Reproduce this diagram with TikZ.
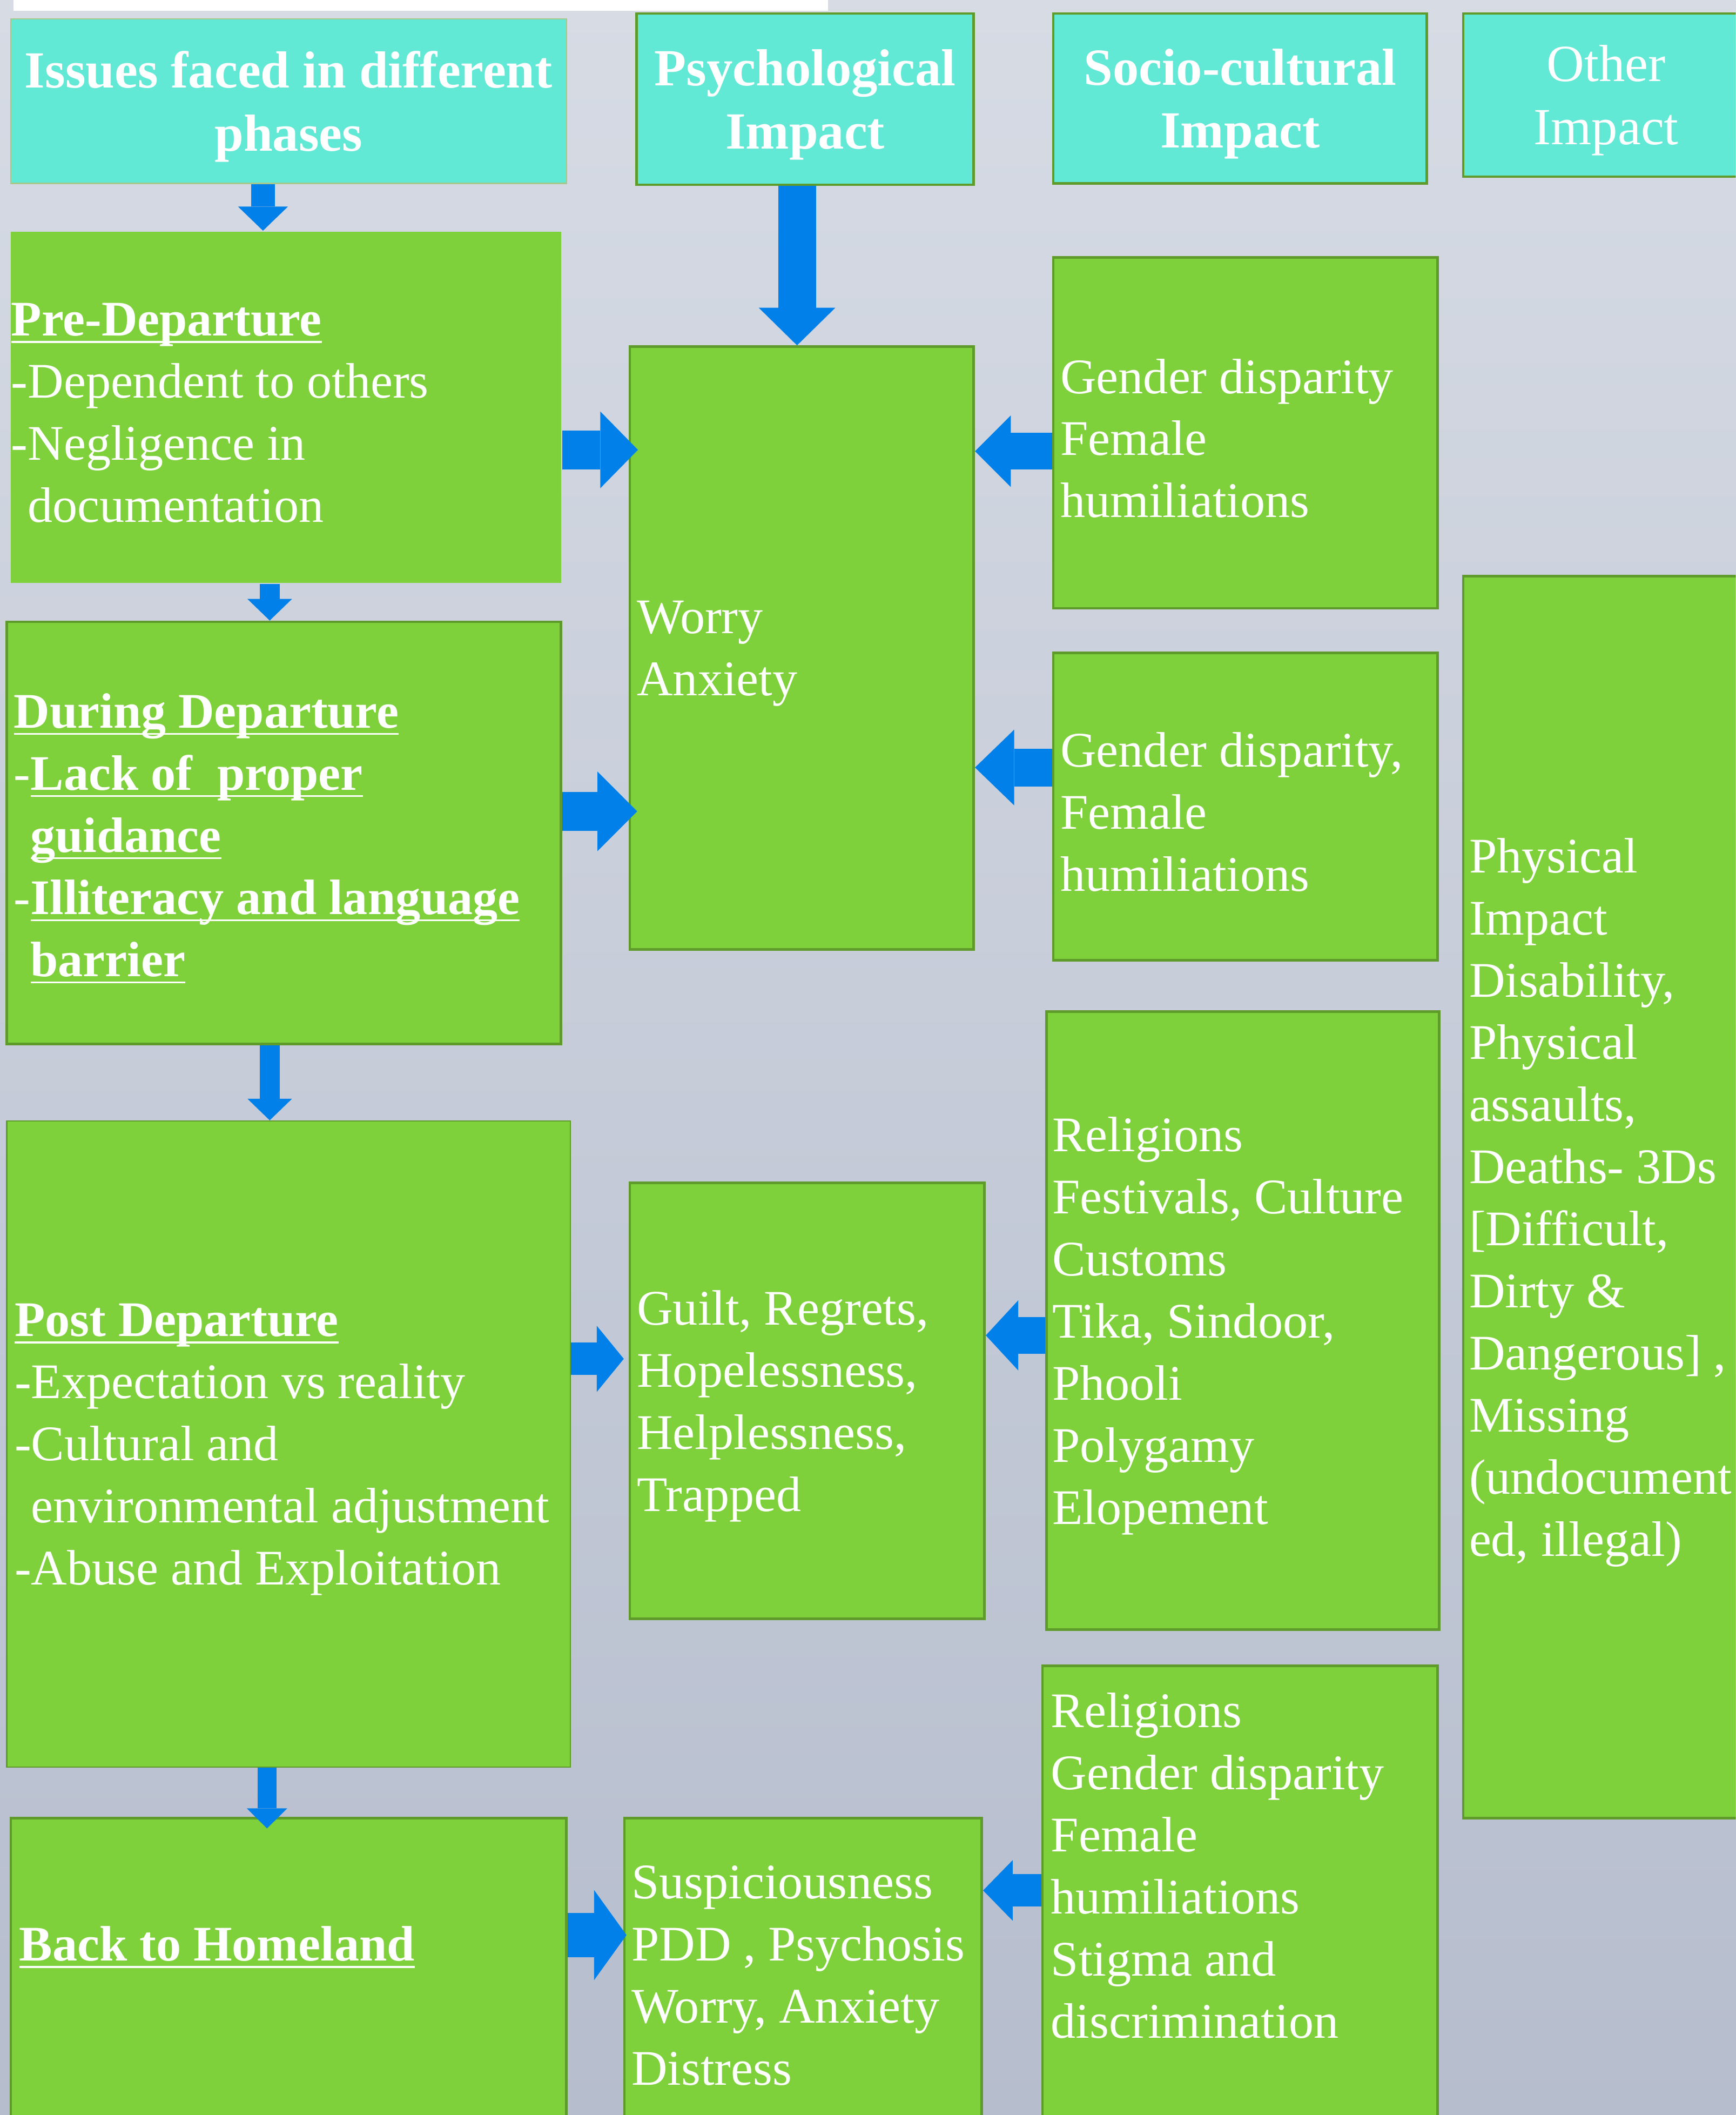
\documentclass[tikz,border=0pt]{standalone}
\usepackage{fontspec}
\setmainfont{Liberation Serif}
\usetikzlibrary{arrows.meta}
\usetikzlibrary{positioning}
\usetikzlibrary{fit}

\definecolor{bgtop}{HTML}{D6DBE4}
\definecolor{bgbot}{HTML}{B6BDCD}
\definecolor{boxgreen}{HTML}{7FD13B}
\definecolor{edgegreen}{HTML}{5F9B2A}
\definecolor{headcyan}{HTML}{62E9D6}
\definecolor{arrowblue}{HTML}{0080E8}

\newcommand{\uln}[1]{\setbox0=\hbox{#1}\rlap{\rule[-3pt]{\wd0}{0.8pt}}\box0}
\newcommand{\ind}{\phantom{-}}

\begin{document}
\begin{tikzpicture}[x=0.02cm, y=-0.02cm,
	head/.style={fill=headcyan, draw=edgegreen, line width=1.1pt, inner sep=0pt},
	htxt/.style={text=white, align=center, inner sep=0pt, yshift=-0.08cm, font=\fontsize{22pt}{26.6pt}\selectfont\bfseries},
	gbox/.style={fill=boxgreen, draw=edgegreen, line width=1.1pt, inner sep=0pt},
	txt/.style={text=white, align=left, inner sep=0pt, font=\fontsize{21pt}{26.2pt}\selectfont},
	ctxt/.style={txt, yshift=-0.08cm},
	flow/.style n args={3}{arrowblue, line width=#1pt, -{Triangle[width=#2pt, length=#3pt, line width=0pt]}}]
			\useasboundingbox (0,0) rectangle (1287,1568);
			\clip (0,0) rectangle (1287,1568);
			\shade[top color=bgtop, bottom color=bgbot] (0,0) rectangle (1287,1568);
			\fill[white] (10,0) rectangle (614,8);
			% column heads
			\node[head, fit={(8,14) (420,136)}, draw=edgegreen!55, line width=0.5pt] (issues) {};
			\node[head, fit={(472,10) (722,137)}] (psych) {};
			\node[head, fit={(781,10) (1058,136)}] (socio) {};
			\node[head, fit={(1085,10) (1300,131)}] (other) {};
			\node[htxt] (issuesT) at (issues.center) {Issues faced in different\\phases};
			\node[htxt] (psychT) at (psych.center) {Psychological\\Impact};
			\node[htxt] (socioT) at (socio.center) {Socio-cultural\\Impact};
			\node[htxt, font=\fontsize{22pt}{26.6pt}\selectfont] (otherT) at (1191,70.5) {Other\\Impact};
			% boxes
			\node[gbox, fit={(8,172) (416,432)}, draw=none] (pre) {};
			\node[gbox, fit={(5,831) (423,1310)}, line width=0.5pt] (post) {};
			\foreach \n/\xa/\ya/\xb/\yb in {worry/467/257/722/704, gen1/781/191/1066/451, during/5/461/416/774, gen2/781/484/1066/712, phys/1085/427/1300/1348, rel1/776/750/1067/1208, guilt/467/877/730/1200, rel2/773/1235/1066/1600, back/8/1348/420/1600, susp/463/1348/728/1600}
			{
				\node[gbox, fit={(\xa,\ya) (\xb,\yb)}] (\n) {};
			}
			% texts
			\node[ctxt, right=0.02cm of pre.west] (preT) {\textbf{\uln{Pre-Departure}}\\-Dependent to others\\-Negligence in\\\ind documentation};
			\node[ctxt, right=0.12cm of during.west] (duringT) {\textbf{\uln{During Departure}}\\-\textbf{\uln{Lack of\ \ proper}}\\\ind\textbf{\uln{guidance}}\\-\textbf{\uln{Illiteracy and language}}\\\ind\textbf{\uln{barrier}}};
			\node[ctxt, right=0.12cm of post.west] (postT) {\textbf{\uln{Post Departure}}\\-Expectation vs reality\\-Cultural and\\\ind environmental adjustment\\-Abuse and Exploitation};
			\node[ctxt, right=0.12cm of worry.west] (worryT) {Worry\\Anxiety};
			\node[ctxt, right=0.12cm of guilt.west] (guiltT) {Guilt, Regrets,\\Hopelessness,\\Helplessness,\\Trapped};
			\node[ctxt, right=0.12cm of gen1.west] (gen1T) {Gender disparity\\Female\\humiliations};
			\node[ctxt, right=0.12cm of gen2.west] (gen2T) {Gender disparity,\\Female\\humiliations};
			\node[ctxt, right=0.1cm of rel1.west] (rel1T) {Religions\\Festivals, Culture\\Customs\\Tika, Sindoor,\\Phooli\\Polygamy\\Elopement};
			\node[ctxt, right=0.1cm of phys.west] (physT) {Physical\\Impact\\Disability,\\Physical\\assaults,\\Deaths- 3Ds\\{[}Difficult,\\Dirty \&\\Dangerous{]} ,\\Missing\\(undocument\\ed, illegal)};
			\node[txt, anchor=north west] (backT) at (14,1421) {\strut\textbf{\uln{Back to Homeland}}};
			\node[txt, anchor=north west] (suspT) at (468,1375) {\strut Suspiciousness\\PDD , Psychosis\\Worry, Anxiety\\Distress};
			\node[txt, anchor=north west] (rel2T) at (779,1248) {\strut Religions\\Gender disparity\\Female\\humiliations\\Stigma and\\discrimination};
			% block arrows
			\foreach \a/\b/\x/\s/\w/\l/\o in {issues/pre/195/10.2/21.1/10.2/0, psych/worry/591/15.9/32.4/15.9/0, pre/during/200/8.5/18.8/9.1/0, during/post/200/8.5/18.8/9.1/0, post/back/198/8/17.1/8.5/-0.17}
			{
				\draw[flow={\s}{\w}{\l}, shorten >=\o cm] (\a.south -| \x,0) -- (\b.north -| \x,0);
			}
			\foreach \a/\b/\y/\s/\w/\l/\o in {pre/worry/333.5/16.5/32.4/15.9/-0.14, during/worry/601.5/16.5/33.6/16.8/-0.13, post/guilt/1007.4/13.7/27.9/11.4/0.07, back/susp/1434.6/18.8/38.1/13.7/-0.05}
			{
				\draw[flow={\s}{\w}{\l}, shorten >=\o cm] (\a.east |- 0,\y) -- (\b.west |- 0,\y);
			}
			\foreach \a/\b/\y/\s/\w/\l in {gen1/worry/334.5/15.4/30.2/15.1, gen2/worry/569/15.9/31.9/16.5, rel1/guilt/990/15.4/29.6/13.7, rel2/susp/1401.5/13.7/25.6/12.5}
			{
				\draw[flow={\s}{\w}{\l}] (\a.west |- 0,\y) -- (\b.east |- 0,\y);
			}
		\end{tikzpicture}
\end{document}
